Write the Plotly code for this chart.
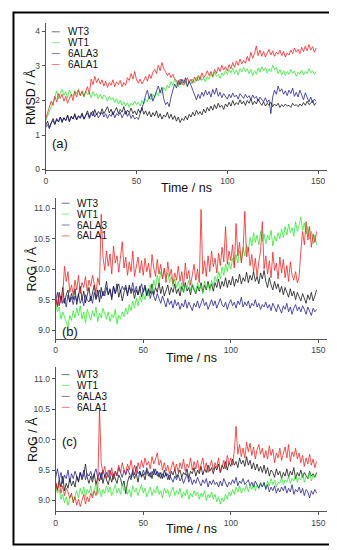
import plotly.graph_objects as go

W, H = 337, 550

# ---------------- data (t in ns, one sample per ns) ----------------
time_ns = list(range(150))
series_names = ["WT3", "WT1", "6ALA3", "6ALA1"]
series_colors = ["#000000", "#1ee61e", "#101080", "#ee1010"]

rmsd_wt3 = [1.28,1.40,1.22,1.35,1.48,1.32,1.45,1.38,1.52,1.36,
            1.50,1.42,1.58,1.40,1.55,1.47,1.62,1.44,1.56,1.50,
            1.64,1.46,1.58,1.70,1.52,1.66,1.55,1.74,1.58,1.68,
            1.60,1.76,1.62,1.70,1.82,1.64,1.75,1.58,1.72,1.80,
            1.62,1.74,1.66,1.82,1.60,1.72,1.65,1.78,1.62,1.70,
            1.58,1.75,1.64,1.80,1.60,1.70,1.56,1.68,1.52,1.65,
            1.55,1.70,1.50,1.62,1.46,1.58,1.52,1.66,1.48,1.60,
            1.45,1.56,1.40,1.52,1.36,1.48,1.42,1.55,1.44,1.60,
            1.52,1.66,1.55,1.72,1.60,1.68,1.58,1.75,1.64,1.80,
            1.70,1.84,1.72,1.88,1.76,1.92,1.80,1.86,1.74,1.90,
            1.82,1.95,1.84,2.00,1.86,1.94,1.88,2.02,1.90,1.98,
            1.86,2.00,1.92,2.05,1.88,1.98,1.90,2.04,1.94,1.86,
            1.96,1.84,1.92,1.86,1.95,1.82,1.90,1.84,1.92,1.80,
            1.88,1.82,1.90,1.84,1.86,1.80,1.92,1.85,1.88,1.82,
            1.90,1.84,1.94,1.86,1.98,1.88,1.92,2.00,1.86,1.94]
rmsd_wt1 = [1.42,1.55,1.70,1.85,1.98,2.10,2.28,2.05,2.22,2.32,
            2.15,2.26,2.08,2.30,2.18,2.12,2.28,2.20,2.34,2.14,
            2.24,2.10,2.28,2.16,2.22,2.08,2.26,2.14,2.20,2.06,
            2.18,2.04,2.16,2.10,1.98,2.12,2.02,2.08,1.94,2.05,
            1.90,2.00,1.86,1.96,1.84,1.94,1.80,1.92,1.86,1.98,
            1.88,1.95,1.84,2.00,1.90,2.05,1.96,2.12,2.02,2.18,
            2.08,2.24,2.14,2.30,2.20,2.38,2.28,2.45,2.36,2.55,
            2.44,2.62,2.50,2.40,2.56,2.46,2.60,2.50,2.42,2.58,
            2.48,2.62,2.52,2.68,2.56,2.72,2.58,2.66,2.54,2.70,
            2.62,2.78,2.66,2.82,2.70,2.76,2.64,2.80,2.72,2.86,
            2.76,2.90,2.80,2.94,2.78,2.88,2.74,2.92,2.82,2.96,
            2.84,2.92,2.78,2.90,2.72,2.86,2.76,2.94,2.82,2.98,
            2.86,2.95,2.80,2.92,2.84,3.02,2.88,2.96,2.78,2.90,
            2.74,2.86,2.72,2.84,2.76,2.90,2.78,2.86,2.70,2.82,
            2.76,2.88,2.74,2.84,2.78,2.92,2.80,2.86,2.76,2.84]
rmsd_6ala3 = [1.22,1.30,1.18,1.35,1.42,1.30,1.48,1.38,1.52,1.40,
              1.50,1.42,1.56,1.38,1.52,1.46,1.58,1.44,1.55,1.48,
              1.60,1.46,1.56,1.64,1.48,1.58,1.70,1.52,1.62,1.50,
              1.58,1.66,1.52,1.62,1.48,1.60,1.54,1.68,1.50,1.62,
              1.56,1.66,1.50,1.60,1.70,1.54,1.64,1.48,1.58,1.46,
              1.52,1.45,1.60,1.78,1.95,2.15,2.30,2.05,2.20,1.98,
              2.12,2.30,2.42,2.22,2.38,2.05,1.88,1.95,1.82,2.10,
              2.30,2.48,2.36,2.58,2.45,2.62,2.50,2.66,2.40,2.55,
              2.44,2.30,2.12,2.02,2.18,2.06,2.24,2.12,2.30,2.16,
              2.26,2.10,2.32,2.18,2.36,2.12,2.24,2.08,2.20,2.12,
              2.04,2.18,2.08,2.22,2.10,2.16,2.04,2.20,2.12,2.06,
              2.18,2.08,2.14,2.02,2.16,2.06,2.12,1.98,2.10,2.04,
              1.96,2.08,1.94,2.02,1.62,2.10,2.30,2.18,2.42,2.26,
              2.34,2.18,2.28,2.14,2.30,2.20,2.36,2.12,2.24,2.10,
              2.30,2.16,2.02,2.22,2.08,1.96,2.10,1.94,2.04,1.98]
rmsd_6ala1 = [1.48,1.66,1.80,1.98,1.86,2.12,1.96,2.20,2.06,2.18,
              1.98,2.12,1.92,2.06,2.18,2.00,2.26,2.10,2.30,2.14,
              2.28,2.12,2.24,2.40,2.18,2.62,2.46,2.70,2.52,2.64,
              2.48,2.60,2.42,2.56,2.38,2.52,2.44,2.60,2.40,2.54,
              2.46,2.58,2.40,2.52,2.44,2.66,2.58,2.78,2.62,2.84,
              2.60,2.50,2.62,2.48,2.58,2.70,2.56,2.76,2.64,2.82,
              2.90,2.78,3.02,2.86,3.10,2.92,2.84,2.72,2.80,2.66,
              2.76,2.62,2.58,2.46,2.62,2.50,2.44,2.58,2.66,2.52,
              2.62,2.50,2.68,2.56,2.72,2.60,2.80,2.66,2.74,2.86,
              2.72,2.84,2.70,2.90,2.78,2.96,2.84,3.02,2.88,2.98,
              2.86,3.04,2.92,3.10,2.96,3.14,3.02,3.20,3.06,3.16,
              3.08,3.28,3.14,3.40,3.22,3.36,3.58,3.30,3.46,3.28,
              3.42,3.26,3.38,3.48,3.32,3.44,3.28,3.40,3.34,3.46,
              3.30,3.42,3.26,3.38,3.32,3.46,3.36,3.52,3.40,3.48,
              3.36,3.54,3.42,3.58,3.44,3.62,3.46,3.56,3.40,3.52]

rog_b_wt3 = [9.52,9.40,9.62,9.48,9.70,9.44,9.58,9.66,9.46,9.60,
             9.50,9.68,9.42,9.58,9.72,9.50,9.64,9.45,9.60,9.70,
             9.48,9.62,9.74,9.52,9.66,9.46,9.70,9.56,9.64,9.80,
             9.58,9.68,9.50,9.72,9.60,9.76,9.54,9.66,9.48,9.62,
             9.70,9.56,9.74,9.60,9.68,9.52,9.66,9.58,9.72,9.55,
             9.64,9.74,9.56,9.68,9.60,9.76,9.58,9.70,9.62,9.78,
             9.60,9.72,9.56,9.66,9.74,9.58,9.70,9.62,9.76,9.60,
             9.68,9.56,9.72,9.62,9.78,9.64,9.70,9.58,9.74,9.66,
             9.60,9.72,9.64,9.78,9.62,9.74,9.66,9.80,9.68,9.76,
             9.64,9.78,9.70,9.84,9.68,9.80,9.72,9.86,9.70,9.82,
             9.74,9.88,9.72,9.84,9.78,9.92,9.76,9.86,9.80,9.95,
             9.78,9.90,9.82,9.96,9.80,9.88,9.76,9.94,9.84,9.98,
             9.80,9.70,9.86,9.74,9.66,9.80,9.68,9.76,9.62,9.72,
             9.58,9.70,9.62,9.54,9.68,9.56,9.64,9.50,9.62,9.55,
             9.48,9.60,9.52,9.44,9.58,9.50,9.62,9.48,9.56,9.66]
rog_b_wt1 = [9.42,9.30,9.38,9.18,9.30,9.22,9.12,9.05,9.24,9.16,
             9.32,9.20,9.36,9.24,9.40,9.18,9.30,9.12,9.34,9.26,
             9.16,9.32,9.22,9.38,9.14,9.28,9.20,9.36,9.26,9.18,
             9.30,9.14,9.26,9.20,9.34,9.10,9.24,9.18,9.30,9.22,
             9.36,9.26,9.42,9.32,9.48,9.36,9.52,9.40,9.56,9.46,
             9.60,9.50,9.68,9.56,9.74,9.62,9.82,9.70,9.90,9.78,
             9.96,9.84,10.00,9.86,9.94,9.78,9.88,9.72,9.84,9.70,
             9.80,9.66,9.78,9.62,9.74,9.68,9.82,9.64,9.76,9.70,
             9.62,9.78,9.66,9.74,9.60,9.80,9.68,9.76,9.64,9.82,
             9.72,9.88,9.80,9.96,9.84,10.04,9.90,10.08,9.96,10.12,
             10.00,10.18,10.06,10.24,10.10,10.30,10.14,10.36,10.22,10.40,
             10.30,10.52,10.38,10.60,10.44,10.56,10.40,10.62,10.46,10.58,
             10.42,10.56,10.48,10.64,10.38,10.54,10.46,10.60,10.50,10.66,
             10.52,10.70,10.56,10.74,10.60,10.68,10.54,10.78,10.62,10.72,
             10.86,10.64,10.76,10.58,10.70,10.50,10.62,10.42,10.56,10.40]
rog_b_6ala3 = [9.48,9.62,9.40,9.56,9.44,9.52,9.38,9.58,9.46,9.54,
               9.42,9.56,9.48,9.60,9.44,9.52,9.40,9.58,9.50,9.46,
               9.56,9.44,9.62,9.50,9.58,9.66,9.52,9.64,9.56,9.70,
               9.58,9.66,9.54,9.72,9.60,9.68,9.76,9.62,9.72,9.66,
               9.74,9.60,9.70,9.64,9.78,9.62,9.72,9.58,9.68,9.76,
               9.62,9.70,9.58,9.66,9.52,9.64,9.56,9.48,9.60,9.50,
               9.44,9.56,9.46,9.38,9.52,9.42,9.48,9.36,9.50,9.40,
               9.46,9.34,9.44,9.38,9.50,9.36,9.46,9.40,9.32,9.44,
               9.38,9.48,9.36,9.44,9.52,9.40,9.46,9.34,9.42,9.50,
               9.40,9.48,9.36,9.44,9.52,9.42,9.38,9.46,9.34,9.44,
               9.50,9.40,9.46,9.36,9.48,9.42,9.54,9.38,9.46,9.40,
               9.48,9.36,9.44,9.40,9.50,9.38,9.44,9.34,9.42,9.38,
               9.46,9.36,9.42,9.32,9.44,9.38,9.30,9.42,9.36,9.28,
               9.40,9.34,9.44,9.30,9.38,9.26,9.36,9.42,9.32,9.38,
               9.30,9.40,9.34,9.26,9.38,9.32,9.24,9.36,9.30,9.34]
rog_b_6ala1 = [9.52,9.38,9.60,9.44,9.56,10.05,9.80,9.96,9.62,9.74,
               9.58,9.82,9.66,9.90,9.60,9.78,9.70,9.88,9.64,9.82,
               9.72,9.90,9.76,9.62,9.86,9.74,10.90,10.20,9.98,10.30,
               10.05,10.25,9.92,10.38,10.10,10.22,9.95,10.16,10.45,10.02,
               10.20,9.90,10.12,9.96,10.30,9.88,10.08,10.20,9.94,10.14,
               9.90,10.18,9.96,10.10,9.86,10.24,10.02,9.88,10.16,9.92,
               10.08,9.84,10.02,9.78,10.12,9.88,10.00,9.76,9.94,9.82,
               10.05,9.80,9.96,9.72,10.10,9.84,9.98,9.74,9.90,10.08,
               9.82,10.00,9.78,10.98,9.92,10.14,9.88,10.22,9.96,10.30,
               10.04,10.18,9.94,10.26,10.06,10.36,10.12,10.70,10.08,10.30,
               10.14,10.40,10.02,10.75,10.22,10.44,10.10,10.32,10.95,10.20,
               10.36,10.06,10.24,9.96,10.18,9.88,10.12,10.30,10.78,10.00,
               10.22,9.92,10.14,9.86,10.28,9.98,10.10,9.84,10.20,9.94,
               10.16,9.86,10.06,9.80,10.12,9.90,9.82,9.96,9.78,9.88,
               10.30,10.62,10.40,10.78,10.48,10.70,10.36,10.58,10.44,10.62]

rog_c_wt3 = [9.30,9.18,9.34,9.22,9.40,9.16,9.28,9.20,9.36,9.24,
             9.32,9.22,9.40,9.30,9.46,9.34,9.42,9.60,9.38,9.28,
             9.40,9.30,9.44,9.26,9.38,9.32,9.46,9.28,9.42,9.34,
             9.26,9.40,9.30,9.44,9.34,9.28,9.42,9.36,9.24,9.32,
             9.11,9.30,9.40,9.34,9.46,9.36,9.44,9.30,9.48,9.38,
             9.44,9.34,9.50,9.40,9.46,9.36,9.52,9.42,9.48,9.38,
             9.46,9.36,9.50,9.40,9.44,9.34,9.48,9.42,9.52,9.38,
             9.44,9.50,9.38,9.46,9.42,9.52,9.36,9.48,9.44,9.54,
             9.40,9.50,9.44,9.56,9.42,9.52,9.46,9.58,9.48,9.54,
             9.44,9.56,9.50,9.60,9.46,9.58,9.52,9.64,9.50,9.62,
             9.56,9.68,9.58,9.64,9.54,9.70,9.60,9.66,9.56,9.72,
             9.58,9.66,9.52,9.62,9.50,9.60,9.48,9.56,9.46,9.58,
             9.44,9.54,9.40,9.50,9.46,9.38,9.52,9.42,9.48,9.36,
             9.46,9.40,9.52,9.38,9.48,9.42,9.54,9.36,9.46,9.40,
             9.50,9.38,9.46,9.42,9.36,9.48,9.40,9.44,9.38,9.46]
rog_c_wt1 = [9.22,9.12,9.18,9.02,9.10,8.96,9.06,8.92,9.04,9.10,
             8.98,9.08,9.16,9.04,9.20,9.10,9.22,9.06,9.18,9.12,
             9.24,9.08,9.16,9.26,9.10,9.20,9.06,9.18,9.12,9.24,
             9.14,9.22,9.08,9.18,9.26,9.12,9.20,9.10,9.28,9.16,
             9.22,9.10,9.18,9.06,9.24,9.14,9.20,9.08,9.16,9.26,
             9.12,9.20,9.06,9.16,9.22,9.08,9.18,9.12,9.24,9.10,
             9.16,9.04,9.20,9.12,9.18,9.06,9.14,9.22,9.08,9.16,
             9.10,9.20,9.04,9.14,9.08,9.18,9.02,9.12,9.06,9.16,
             9.08,9.14,9.02,9.12,9.06,9.16,9.00,9.10,9.04,9.14,
             9.02,9.10,8.98,9.06,8.94,9.04,8.98,9.10,9.02,9.14,
             9.08,9.18,9.10,9.22,9.14,9.24,9.12,9.20,9.16,9.26,
             9.14,9.24,9.18,9.28,9.16,9.26,9.20,9.30,9.22,9.28,
             9.20,9.32,9.24,9.36,9.26,9.34,9.22,9.30,9.28,9.38,
             9.26,9.34,9.30,9.40,9.28,9.36,9.32,9.42,9.30,9.38,
             9.34,9.44,9.30,9.40,9.36,9.46,9.32,9.42,9.38,9.44]
rog_c_6ala3 = [9.38,9.52,9.34,9.46,9.28,9.42,9.36,9.50,9.30,9.44,
               9.36,9.48,9.40,9.32,9.46,9.38,9.50,9.34,9.44,9.40,
               9.48,9.36,9.44,9.52,9.38,9.46,9.34,9.50,9.40,9.46,
               9.38,9.50,9.42,9.36,9.48,9.40,9.54,9.44,9.38,9.50,
               9.42,9.52,9.46,9.38,9.50,9.42,9.56,9.44,9.48,9.40,
               9.50,9.42,9.54,9.46,9.38,9.48,9.42,9.52,9.40,9.46,
               9.36,9.44,9.38,9.46,9.34,9.42,9.36,9.30,9.40,9.34,
               9.42,9.32,9.38,9.28,9.36,9.44,9.30,9.38,9.26,9.34,
               9.28,9.38,9.30,9.24,9.34,9.28,9.36,9.22,9.32,9.26,
               9.34,9.26,9.30,9.22,9.32,9.24,9.36,9.28,9.22,9.30,
               9.26,9.34,9.28,9.38,9.24,9.32,9.28,9.36,9.26,9.30,
               9.34,9.24,9.30,9.22,9.32,9.26,9.20,9.28,9.22,9.30,
               9.18,9.26,9.14,9.22,9.16,9.24,9.12,9.20,9.14,9.22,
               9.16,9.24,9.12,9.20,9.14,9.26,9.10,9.18,9.14,9.22,
               9.12,9.20,9.08,9.18,9.14,9.04,9.16,9.10,9.18,9.12]
rog_c_6ala1 = [9.28,9.16,9.30,9.12,9.24,9.08,9.20,9.14,9.04,9.12,
               8.96,9.06,8.92,9.02,8.90,9.00,9.10,8.94,9.06,8.98,
               9.12,9.04,9.16,9.08,9.20,10.50,9.62,9.44,9.56,9.36,
               9.50,9.40,9.54,9.34,9.48,9.42,9.58,9.46,9.62,9.50,
               9.44,9.60,9.50,9.66,9.48,9.58,9.44,9.62,9.52,9.66,
               9.54,9.70,9.58,9.64,9.52,9.72,9.60,9.68,9.78,9.58,
               9.66,9.50,9.62,9.48,9.58,9.44,9.56,9.64,9.50,9.60,
               9.46,9.62,9.52,9.68,9.48,9.60,9.54,9.70,9.50,9.64,
               9.52,9.66,9.48,9.60,9.70,9.50,9.62,9.46,9.58,9.66,
               9.50,9.62,9.54,9.70,9.46,9.58,9.66,9.52,9.74,9.60,
               9.70,9.58,9.82,10.22,9.76,9.92,9.72,9.86,9.70,9.96,
               9.80,9.94,9.74,9.88,9.68,9.84,9.92,9.76,9.86,9.70,
               9.82,9.68,9.90,9.74,9.84,9.62,9.78,9.70,9.86,9.66,
               9.76,9.88,9.70,9.92,9.64,9.80,9.72,9.86,9.68,9.78,
               9.62,9.74,9.56,9.70,9.60,9.76,9.58,9.68,9.54,9.64]

panel_a = [rmsd_wt3, rmsd_wt1, rmsd_6ala3, rmsd_6ala1]
panel_b = [rog_b_wt3, rog_b_wt1, rog_b_6ala3, rog_b_6ala1]
panel_c = [rog_c_wt3, rog_c_wt1, rog_c_6ala3, rog_c_6ala1]

x_ticks = [0, 50, 100, 150]
a_ticks = [0, 1, 2, 3, 4]
rog_ticks = [9.0, 9.5, 10.0, 10.5, 11.0]
rog_ticktext = ["9.0", "9.5", "10.0", "10.5", "11.0"]

# ---------------- figure ----------------
def px(x):
    return x / W

def py(y):
    return 1 - y / H

fig = go.Figure()
panels = [
    (panel_a, "x", "y"),
    (panel_b, "x2", "y2"),
    (panel_c, "x3", "y3"),
]
for data, xa, ya in panels:
    for name, col, vals in zip(series_names, series_colors, data):
        fig.add_trace(go.Scatter(
            x=time_ns, y=vals, mode="lines", name=name,
            line=dict(color=col, width=0.8), opacity=0.9,
            xaxis=xa, yaxis=ya, showlegend=False, hoverinfo="skip"))

FONT = "Liberation Sans, Arial, sans-serif"
axcommon = dict(showline=True, linecolor="#555555", linewidth=1, ticks="outside",
                ticklen=3, tickcolor="#555555", showgrid=False, zeroline=False,
                tickfont=dict(family=FONT, size=8.5, color="#444444"))

fig.update_layout(
    width=W, height=H, margin=dict(l=0, r=0, t=0, b=0),
    paper_bgcolor="white", plot_bgcolor="white", showlegend=False,
    xaxis=dict(domain=[px(36), px(319)], range=[0, 155], tickvals=x_ticks,
               anchor="y", **axcommon),
    yaxis=dict(domain=[py(163), py(15)], range=[0, 4.25], tickvals=a_ticks,
               anchor="x", **axcommon),
    xaxis2=dict(domain=[px(46), px(319)], range=[0, 155], tickvals=x_ticks,
                anchor="y2", **axcommon),
    yaxis2=dict(domain=[py(334), py(192)], range=[8.855, 11.165], tickvals=rog_ticks,
                ticktext=rog_ticktext, anchor="x2", **axcommon),
    xaxis3=dict(domain=[px(46), px(319)], range=[0, 155], tickvals=x_ticks,
                anchor="y3", **axcommon),
    yaxis3=dict(domain=[py(508), py(362)], range=[8.82, 11.2], tickvals=rog_ticks,
                ticktext=rog_ticktext, anchor="x3", **axcommon),
)

annotations = []
shapes = []

def text(s, x, y, size, angle=0, xanchor="center"):
    annotations.append(dict(text=s, x=px(x), y=py(y), xref="paper", yref="paper",
                            showarrow=False, xanchor=xanchor, yanchor="middle",
                            textangle=angle, borderpad=0,
                            font=dict(family=FONT, size=size, color="#111111")))

# axis titles
text("Time / ns", 178, 182, 12.5)
text("Time / ns", 183, 353, 12.5)
text("Time / ns", 183, 526, 12.5)
text("RMSD / Å", 20, 90, 12.5, angle=-90)
text("RoG / Å", 22, 263, 12.5, angle=-90)
text("RoG / Å", 22, 435, 12.5, angle=-90)
# panel tags
text("(a)", 50, 137, 13)
text("(b)", 60, 326, 13)
text("(c)", 60, 437, 13)

# legends (drawn as text + short line samples)
legend_specs = [
    (42, 50, 57, [24, 35, 46, 57], 10),
    (52, 60, 66, [197, 208, 219, 230], 10),
    (52, 60, 66, [370, 381, 392, 403], 10),
]
for x0, x1, xt, ys, fs in legend_specs:
    for name, col, yy in zip(series_names, series_colors, ys):
        shapes.append(dict(type="line", xref="paper", yref="paper",
                           x0=px(x0), x1=px(x1), y0=py(yy), y1=py(yy),
                           line=dict(color=col, width=1), opacity=0.55))
        text(name, xt, yy, fs, xanchor="left")

# outer frame
shapes.append(dict(type="rect", xref="paper", yref="paper",
                   x0=px(3.5), x1=px(329), y0=py(541.5), y1=py(4.5),
                   line=dict(color="black", width=2)))

fig.update_layout(annotations=annotations, shapes=shapes)
fig.write_html("out.html")
